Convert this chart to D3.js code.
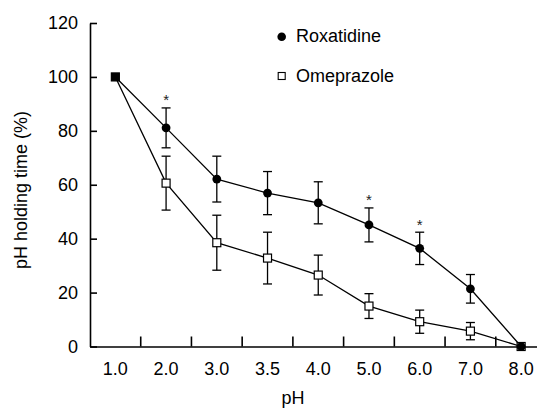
<!DOCTYPE html>
<html><head><meta charset="utf-8">
<script src="https://cdn.jsdelivr.net/npm/d3@7"></script>
<style>
html,body{margin:0;padding:0;background:#fff;}
svg{display:block;font-family:"Liberation Sans",Arial,sans-serif;}
</style></head>
<body><svg id="c" width="537" height="409"></svg>
<script>
const categories = ["1.0","2.0","3.0","3.5","4.0","5.0","6.0","7.0","8.0"];
const roxatidine = [100, 81.1, 62.1, 56.9, 53.3, 45.1, 36.4, 21.4, 0];
const roxatidineErr = [0, 7.4, 8.5, 8.0, 7.8, 6.3, 6.0, 5.3, 0];
const omeprazole = [100, 60.6, 38.5, 32.8, 26.5, 15.0, 9.2, 5.7, 0];
const omeprazoleErr = [0, 10.0, 10.2, 9.6, 7.4, 4.6, 4.3, 3.2, 0];
const significant = ["2.0","5.0","6.0"];
const yTicks = [0,20,40,60,80,100,120];
const seriesNames = ["Roxatidine","Omeprazole"];

const svg = d3.select("#c");
const x = d3.scaleBand().domain(categories).range([90, 546.5]).paddingInner(0).paddingOuter(0);
const y = d3.scaleLinear().domain([0,120]).range([346.5, 23]);
const cx = c => x(c) + x.bandwidth()/2;

// y axis
const ya = svg.append("g").attr("transform","translate(90,0)")
  .call(d3.axisLeft(y).tickValues(yTicks).tickSizeInner(-7).tickSizeOuter(0).tickPadding(12));
ya.select(".domain").attr("stroke","#000").attr("stroke-width",1.6);
ya.selectAll(".tick line").attr("stroke","#000").attr("stroke-width",1.6);
ya.selectAll(".tick text").attr("font-size",18).attr("fill","#000")
  .attr("font-family","Liberation Sans, Arial, sans-serif");

// x axis (labels at category centers)
const xa = svg.append("g").attr("transform","translate(0,346.5)")
  .call(d3.axisBottom(x).tickSize(0).tickPadding(16));
xa.select(".domain").attr("stroke","#000").attr("stroke-width",1.6);
xa.selectAll(".tick text").attr("font-size",18).attr("fill","#000")
  .attr("font-family","Liberation Sans, Arial, sans-serif");
// boundary ticks pointing inward
svg.append("g").selectAll("line").data(categories.slice(1)).join("line")
  .attr("x1", d => x(d)).attr("x2", d => x(d))
  .attr("y1", y(0)).attr("y2", y(0)-10)
  .attr("stroke","#000").attr("stroke-width",1.6);

// axis titles
svg.append("text").attr("x",293).attr("y",404).attr("text-anchor","middle")
  .attr("font-size",18).text("pH");
svg.append("text").attr("transform","translate(27,190) rotate(-90)").attr("text-anchor","middle")
  .attr("font-size",18).text("pH holding time (%)");

const line = d3.line().x((d,i)=>cx(categories[i])).y(d=>y(d));
function drawSeries(vals){
  svg.append("path").datum(vals).attr("d",line).attr("fill","none")
    .attr("stroke","#000").attr("stroke-width",1.3);
}
function drawErr(vals, errs){
  const g = svg.append("g").attr("stroke","#000").attr("stroke-width",1.3);
  categories.forEach((c,i)=>{
    if(!errs[i]) return;
    const xc = cx(c), t = y(vals[i]+errs[i]), b = y(vals[i]-errs[i]);
    g.append("line").attr("x1",xc).attr("x2",xc).attr("y1",t).attr("y2",b);
    g.append("line").attr("x1",xc-4.5).attr("x2",xc+4.5).attr("y1",t).attr("y2",t);
    g.append("line").attr("x1",xc-4.5).attr("x2",xc+4.5).attr("y1",b).attr("y2",b);
  });
}
drawSeries(roxatidine);
drawSeries(omeprazole);
drawErr(roxatidine, roxatidineErr);
drawErr(omeprazole, omeprazoleErr);

// omeprazole squares
svg.append("g").selectAll("rect").data(omeprazole).join("rect")
  .attr("x",(d,i)=>cx(categories[i])-4).attr("y",d=>y(d)-4)
  .attr("width",8).attr("height",8)
  .attr("fill",(d,i)=> i===0 ? "#000" : "#fff").attr("stroke","#000").attr("stroke-width",1.2);
// roxatidine circles
svg.append("g").selectAll("circle").data(roxatidine).join("circle")
  .attr("cx",(d,i)=>cx(categories[i])).attr("cy",d=>y(d)).attr("r",(d,i)=> i===0 ? 0 : 4.4)
  .attr("fill","#000");

// significance asterisks
svg.append("g").selectAll("text").data(significant).join("text")
  .attr("x", d => cx(d)).attr("y", d => { const i = categories.indexOf(d); return y(roxatidine[i]+roxatidineErr[i]) - 2.5; })
  .attr("text-anchor","middle").attr("font-size",15).attr("fill","#222").text("*");

// legend
const lg = svg.append("g");
lg.append("circle").attr("cx",281.7).attr("cy",36.7).attr("r",4.3).attr("fill","#000");
lg.append("text").attr("x",296).attr("y",42.3).attr("font-size",18).text(seriesNames[0]);
lg.append("rect").attr("x",278.2).attr("y",72.5).attr("width",7).attr("height",7)
  .attr("fill","#fff").attr("stroke","#000").attr("stroke-width",1.1);
lg.append("text").attr("x",296).attr("y",81.7).attr("font-size",18).text(seriesNames[1]);
</script></body></html>
